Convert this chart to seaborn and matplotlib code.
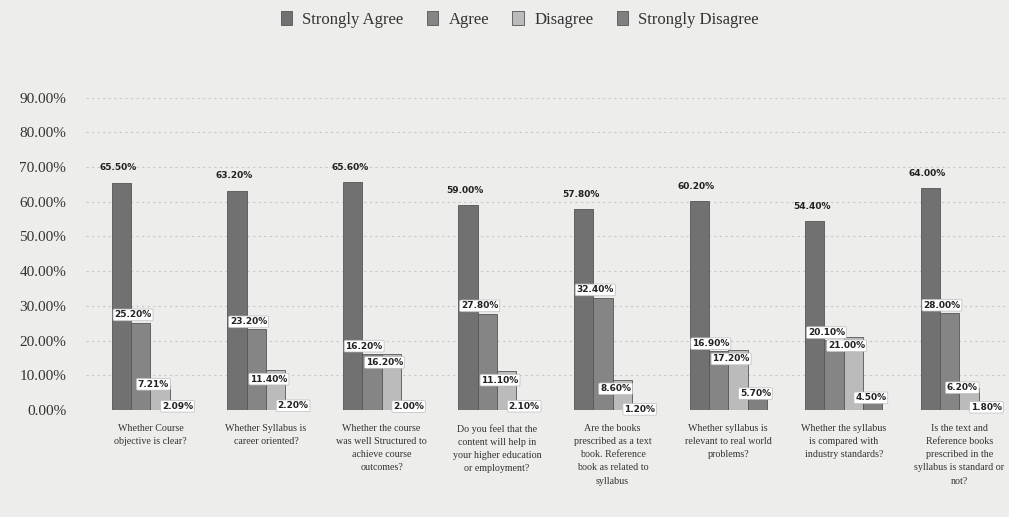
import matplotlib
matplotlib.use("Agg")
import matplotlib.pyplot as plt
import seaborn as sns
import pandas as pd

categories = [
    "Whether Course\nobjective is clear?",
    "Whether Syllabus is\ncareer oriented?",
    "Whether the course\nwas well Structured to\nachieve course\noutcomes?",
    "Do you feel that the\ncontent will help in\nyour higher education\nor employment?",
    "Are the books\nprescribed as a text\nbook. Reference\nbook as related to\nsyllabus",
    "Whether syllabus is\nrelevant to real world\nproblems?",
    "Whether the syllabus\nis compared with\nindustry standards?",
    "Is the text and\nReference books\nprescribed in the\nsyllabus is standard or\nnot?",
]
series = ["Strongly Agree", "Agree", "Disagree", "Strongly Disagree"]
strongly_agree = [65.50, 63.20, 65.60, 59.00, 57.80, 60.20, 54.40, 64.00]
agree = [25.20, 23.20, 16.20, 27.80, 32.40, 16.90, 20.10, 28.00]
disagree = [7.21, 11.40, 16.20, 11.10, 8.60, 17.20, 21.00, 6.20]
strongly_disagree = [2.09, 2.20, 2.00, 2.10, 1.20, 5.70, 4.50, 1.80]
y_ticks = [0, 10, 20, 30, 40, 50, 60, 70, 80, 90]

colors = ["#717171", "#858585", "#bbbbbb", "#808080"]
bg = "#ededeb"

rows = []
for vals, s in zip([strongly_agree, agree, disagree, strongly_disagree], series):
    for c, v in zip(categories, vals):
        rows.append({"cat": c, "series": s, "value": v})
df = pd.DataFrame(rows)

sns.set_theme(style="white")
plt.rcParams["font.family"] = ["Liberation Serif", "DejaVu Serif"]

fig = plt.figure(figsize=(10.09, 5.17), dpi=100, facecolor=bg)
ax = fig.add_axes([0.085, 0.207, 0.915, 0.604])
ax.set_facecolor(bg)

sns.barplot(data=df, x="cat", y="value", hue="series", order=categories,
            hue_order=series, palette=colors, width=0.67, ax=ax,
            edgecolor="#555555", linewidth=0.6, saturation=1, legend=True)

ax.set_ylim(0, 90)
ax.set_xlim(-0.56, 7.43)
ax.set_yticks(y_ticks)
ax.set_yticklabels([f"{t:.2f}%" for t in y_ticks], fontsize=11, color="#333333")
ax.tick_params(axis="y", length=0, pad=14)
ax.tick_params(axis="x", length=0, pad=10)
ax.set_xticks(range(len(categories)))
ax.set_xticklabels(categories, fontsize=7.2, color="#333333", linespacing=1.6)
ax.set_xlabel("")
ax.set_ylabel("")
for sp in ax.spines.values():
    sp.set_visible(False)
ax.yaxis.grid(True, linestyle=(0, (2, 3)), color="#c8c8c8", linewidth=0.8)
ax.set_axisbelow(True)

label_font = dict(fontsize=6.5, fontweight="bold", family="DejaVu Sans", color="#222222")
box = dict(boxstyle="round,pad=0.15", fc="white", ec="#bbbbbb", lw=0.5)
for si, cont in enumerate(ax.containers):
    for bar in cont:
        h = bar.get_height()
        x0 = bar.get_x()
        w = bar.get_width()
        if si == 0:
            ax.text(x0 + w * 0.35, h + 3.0, f"{h:.2f}%", ha="center", va="bottom", **label_font)
        elif si == 1:
            ax.text(x0 + w * 0.1, h + 2.2, f"{h:.2f}%", ha="center", va="center", bbox=box, **label_font)
        elif si == 2:
            ax.text(x0 + w * 0.15, h - 2.5 if h > 8 else h + 0.2, f"{h:.2f}%", ha="center", va="center", bbox=box, **label_font)
        else:
            ax.text(x0 + w * 0.4, max(h - 1.0, 0.2), f"{h:.2f}%", ha="center", va="center", bbox=box, **label_font)

leg = ax.legend(loc="center", bbox_to_anchor=(0.47, 1.25), ncol=4, frameon=False,
                fontsize=12, handlelength=0.7, handleheight=0.9, columnspacing=1.4,
                handletextpad=0.6)
for t in leg.get_texts():
    t.set_color("#333333")

fig.savefig("out.png", dpi=100, facecolor=bg)
